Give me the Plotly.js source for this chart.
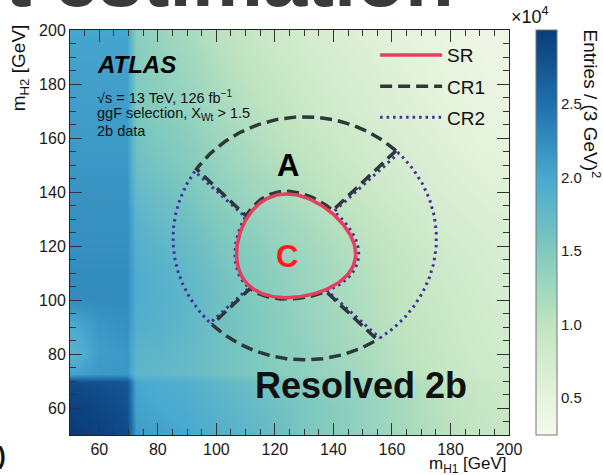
<!DOCTYPE html>
<html>
<head>
<meta charset="utf-8">
<script src="https://cdn.plot.ly/plotly-3.0.1.min.js"></script>
<style>
  html, body { margin: 0; padding: 0; background: #ffffff; }
  #chart { width: 603px; height: 475px; }
</style>
</head>
<body>
<div id="chart"></div>
<script>
// Bin centres in m_H1 and m_H2 (GeV)
const mH1 = [51.5, 60, 69.5, 72.5, 80, 90, 100, 110, 120, 130, 140, 150, 160, 170, 180, 190, 198.5];
const mH2 = [51.5, 60, 69.5, 72.5, 80, 90, 100, 110, 120, 130, 140, 150, 160, 170, 180, 190, 198.5];

// Entries per (3 GeV)^2, in units of 10^4; one row per m_H2 bin, one column per m_H1 bin
const entries = [
  [3.00, 2.95, 2.85, 2.10, 2.05, 2.00, 1.90, 1.80, 1.70, 1.55, 1.45, 1.35, 1.25, 1.15, 1.05, 0.95, 0.90],
  [2.95, 2.90, 2.80, 2.05, 2.00, 1.95, 1.85, 1.75, 1.65, 1.55, 1.45, 1.35, 1.25, 1.12, 1.02, 0.92, 0.88],
  [2.85, 2.80, 2.75, 2.00, 1.95, 1.90, 1.80, 1.70, 1.60, 1.50, 1.40, 1.30, 1.20, 1.10, 1.00, 0.90, 0.85],
  [2.05, 2.15, 2.15, 1.80, 1.78, 1.72, 1.65, 1.55, 1.45, 1.38, 1.30, 1.20, 1.10, 1.00, 0.92, 0.85, 0.80],
  [1.85, 2.10, 2.15, 1.82, 1.80, 1.74, 1.64, 1.55, 1.45, 1.38, 1.28, 1.18, 1.08, 0.98, 0.90, 0.82, 0.78],
  [1.95, 2.15, 2.20, 1.90, 1.86, 1.78, 1.66, 1.56, 1.45, 1.35, 1.25, 1.15, 1.05, 0.95, 0.87, 0.80, 0.75],
  [2.25, 2.25, 2.25, 1.93, 1.88, 1.80, 1.66, 1.53, 1.42, 1.32, 1.22, 1.12, 1.02, 0.92, 0.85, 0.78, 0.72],
  [2.25, 2.25, 2.25, 1.93, 1.87, 1.77, 1.63, 1.51, 1.40, 1.30, 1.20, 1.10, 1.00, 0.90, 0.82, 0.75, 0.70],
  [2.22, 2.22, 2.22, 1.89, 1.81, 1.72, 1.57, 1.46, 1.35, 1.25, 1.15, 1.05, 0.95, 0.86, 0.78, 0.72, 0.66],
  [2.20, 2.20, 2.20, 1.83, 1.74, 1.64, 1.51, 1.38, 1.28, 1.18, 1.08, 0.98, 0.88, 0.80, 0.72, 0.66, 0.62],
  [2.18, 2.18, 2.18, 1.75, 1.66, 1.56, 1.42, 1.30, 1.20, 1.10, 1.00, 0.90, 0.82, 0.74, 0.66, 0.60, 0.56],
  [2.15, 2.15, 2.15, 1.66, 1.58, 1.48, 1.35, 1.22, 1.12, 1.02, 0.92, 0.84, 0.76, 0.68, 0.61, 0.55, 0.52],
  [2.12, 2.12, 2.12, 1.60, 1.52, 1.42, 1.28, 1.15, 1.05, 0.95, 0.86, 0.78, 0.70, 0.63, 0.56, 0.51, 0.48],
  [2.10, 2.10, 2.10, 1.55, 1.46, 1.36, 1.22, 1.09, 0.99, 0.89, 0.80, 0.72, 0.65, 0.58, 0.52, 0.47, 0.44],
  [2.08, 2.08, 2.08, 1.50, 1.40, 1.30, 1.16, 1.03, 0.93, 0.84, 0.75, 0.68, 0.61, 0.54, 0.48, 0.44, 0.41],
  [2.05, 2.05, 2.05, 1.46, 1.36, 1.25, 1.11, 0.98, 0.88, 0.79, 0.71, 0.64, 0.57, 0.51, 0.45, 0.41, 0.38],
  [2.02, 2.02, 2.02, 1.42, 1.32, 1.20, 1.06, 0.94, 0.84, 0.75, 0.67, 0.60, 0.53, 0.47, 0.42, 0.38, 0.35]
];

const colorbarTicks = [0.5, 1.0, 1.5, 2.0, 2.5];
const colorbarTickText = ['0.5', '1.0', '1.5', '2.0', '2.5'];
const axisTicks = [60, 80, 100, 120, 140, 160, 180, 200];

// Region definitions (GeV)
const SR_M1 = 124, SR_M2 = 117, SR_CUT = 1.6;
const CR_M1 = 1.05 * 124, CR_M2 = 1.05 * 117, CR_RADIUS = 45;

const FONT = 'Liberation Sans, Arial, Helvetica, sans-serif';

function xhh(m1, m2) {
  const a = (m1 - SR_M1) / (0.1 * m1);
  const b = (m2 - SR_M2) / (0.1 * m2);
  return Math.sqrt(a * a + b * b);
}

// distance along a ray from the SR centre to the X_HH = cut boundary
function rayToSR(phi, cut) {
  let lo = 0, hi = 80;
  for (let k = 0; k < 60; k++) {
    const mid = 0.5 * (lo + hi);
    const v = xhh(SR_M1 + mid * Math.cos(phi), SR_M2 + mid * Math.sin(phi));
    if (v < cut) lo = mid; else hi = mid;
  }
  return lo;
}

// distance along a ray from the SR centre to the outer CR circle
function rayToCircle(phi) {
  const dx = Math.cos(phi), dy = Math.sin(phi);
  const ox = SR_M1 - CR_M1, oy = SR_M2 - CR_M2;
  const b = dx * ox + dy * oy;
  const c = ox * ox + oy * oy - CR_RADIUS * CR_RADIUS;
  return -b + Math.sqrt(b * b - c);
}

function srContour(cut) {
  const xs = [], ys = [];
  for (let i = 0; i <= 240; i++) {
    const t = 2 * Math.PI * i / 240;
    const u = cut * Math.cos(t), v = cut * Math.sin(t);
    xs.push(SR_M1 / (1 - 0.1 * u));
    ys.push(SR_M2 / (1 - 0.1 * v));
  }
  return { x: xs, y: ys };
}

// closed outline of one quadrant of the control ring
function quadrant(a0, a1, inset, innerCut) {
  const xs = [], ys = [];
  const n = 80;
  const p0 = a0 + inset, p1 = a1 - inset;
  for (let i = 0; i <= n; i++) {
    const phi = p0 + (p1 - p0) * i / n;
    const r = rayToCircle(phi);
    xs.push(SR_M1 + r * Math.cos(phi));
    ys.push(SR_M2 + r * Math.sin(phi));
  }
  for (let i = 0; i <= n; i++) {
    const phi = p1 - (p1 - p0) * i / n;
    const r = rayToSR(phi, innerCut);
    xs.push(SR_M1 + r * Math.cos(phi));
    ys.push(SR_M2 + r * Math.sin(phi));
  }
  xs.push(xs[0]); ys.push(ys[0]);
  return { x: xs, y: ys };
}

const D = Math.PI / 180;
const crTop = quadrant(45 * D, 135 * D, 0.012, 1.66);
const crBottom = quadrant(225 * D, 315 * D, 0.012, 1.66);
const crLeft = quadrant(135 * D, 225 * D, 0.012, 1.66);
const crRight = quadrant(-45 * D, 45 * D, 0.012, 1.66);
const sr = srContour(SR_CUT);

const CR1_COLOR = '#2e3838', CR2_COLOR = '#4a2c9e', SR_COLOR = '#e63e5c';

const colorscale = [
  [0.000, 'rgb(244,250,236)'],
  [0.091, 'rgb(230,243,221)'],
  [0.273, 'rgb(192,228,192)'],
  [0.455, 'rgb(128,202,190)'],
  [0.636, 'rgb(72,168,208)'],
  [0.818, 'rgb(30,112,172)'],
  [1.000, 'rgb(10,60,122)']
];

const traces = [
  {
    type: 'heatmap', x: mH1, y: mH2, z: entries,
    zmin: 0.25, zmax: 3.0, zsmooth: 'best',
    colorscale: colorscale, hoverinfo: 'skip',
    colorbar: {
      x: 1.0615, xanchor: 'left', xpad: 0, ypad: 0,
      y: 0.5, yanchor: 'middle', len: 1, lenmode: 'fraction',
      thickness: 21, thicknessmode: 'pixels',
      outlinewidth: 1, outlinecolor: '#777777',
      tickvals: colorbarTicks, ticktext: colorbarTickText,
      ticks: '', tickfont: { family: FONT, size: 15, color: '#1a1a1a' }
    }
  },
  {
    type: 'scatter', mode: 'lines', name: 'CR2', legendrank: 3, legendgroup: 'cr2',
    x: crLeft.x, y: crLeft.y,
    line: { color: CR2_COLOR, width: 3, dash: '2.5px,4px' }
  },
  {
    type: 'scatter', mode: 'lines', name: 'CR2', legendgroup: 'cr2', showlegend: false,
    x: crRight.x, y: crRight.y,
    line: { color: CR2_COLOR, width: 3, dash: '2.5px,4px' }
  },
  {
    type: 'scatter', mode: 'lines', name: 'CR1', legendrank: 2, legendgroup: 'cr1',
    x: crTop.x, y: crTop.y,
    line: { color: CR1_COLOR, width: 3.5, dash: '12px,6px' }
  },
  {
    type: 'scatter', mode: 'lines', name: 'CR1', legendgroup: 'cr1', showlegend: false,
    x: crBottom.x, y: crBottom.y,
    line: { color: CR1_COLOR, width: 3.5, dash: '12px,6px' }
  },
  {
    type: 'scatter', mode: 'lines', name: 'SR', legendrank: 1, legendgroup: 'sr',
    x: sr.x, y: sr.y,
    line: { color: SR_COLOR, width: 3.5 }
  }
];

const axisCommon = {
  range: [50, 200], autorange: false,
  tickvals: axisTicks, ticks: 'inside', ticklen: 12, tickwidth: 1, tickcolor: '#333333',
  minor: { dtick: 5, tick0: 0, ticks: 'inside', ticklen: 6, tickwidth: 1, tickcolor: '#333333' },
  showline: true, linecolor: '#222222', linewidth: 1, mirror: 'ticks',
  showgrid: false, zeroline: false,
  tickfont: { family: FONT, size: 16, color: '#1a1a1a' }
};

const layout = {
  width: 603, height: 475,
  margin: { l: 70, r: 94, t: 30, b: 40, pad: 0 },
  paper_bgcolor: '#ffffff', plot_bgcolor: '#ffffff',
  font: { family: FONT, color: '#111111' },
  xaxis: Object.assign({}, axisCommon),
  yaxis: Object.assign({}, axisCommon),
  showlegend: true,
  legend: {
    x: 0.695, y: 0.985, xanchor: 'left', yanchor: 'top',
    bgcolor: 'rgba(0,0,0,0)', borderwidth: 0,
    traceorder: 'grouped',
    font: { family: FONT, size: 19, color: '#111111' },
    itemwidth: 62, tracegroupgap: 3.5
  },
  annotations: [
    { xref: 'paper', yref: 'paper', x: 0.056, y: 0.914, xanchor: 'left', yanchor: 'middle',
      text: '<b><i>ATLAS</i></b>', showarrow: false, font: { family: FONT, size: 24, color: '#000' } },
    { xref: 'paper', yref: 'paper', x: 0.056, y: 0.834, xanchor: 'left', yanchor: 'middle',
      text: '√s = 13 TeV, 126 fb<sup>−1</sup>', showarrow: false, font: { family: FONT, size: 14.5, color: '#111' } },
    { xref: 'paper', yref: 'paper', x: 0.056, y: 0.792, xanchor: 'left', yanchor: 'middle',
      text: 'ggF selection, X<sub>Wt</sub> > 1.5', showarrow: false, font: { family: FONT, size: 14.5, color: '#111' } },
    { xref: 'paper', yref: 'paper', x: 0.056, y: 0.751, xanchor: 'left', yanchor: 'middle',
      text: '2b data', showarrow: false, font: { family: FONT, size: 14.5, color: '#111' } },
    { xref: 'x', yref: 'y', x: 124.5, y: 150, text: '<b>A</b>', showarrow: false,
      font: { family: FONT, size: 31, color: '#000' } },
    { xref: 'x', yref: 'y', x: 124.2, y: 116, text: '<b>C</b>', showarrow: false,
      font: { family: FONT, size: 31, color: '#ff1a1a' } },
    { xref: 'x', yref: 'y', x: 149.5, y: 68.5, text: '<b>Resolved 2b</b>', showarrow: false,
      font: { family: FONT, size: 36, color: '#111' } },
    { xref: 'paper', yref: 'paper', x: 1.0, y: -0.074, xanchor: 'right', yanchor: 'middle',
      text: 'm<sub>H1</sub> [GeV]', showarrow: false, font: { family: FONT, size: 17, color: '#111' } },
    { xref: 'paper', yref: 'paper', x: -0.114, y: 1.02, xanchor: 'center', yanchor: 'top', textangle: -90,
      text: 'm<sub>H2</sub> [GeV]', showarrow: false, font: { family: FONT, size: 19, color: '#111' } },
    { xref: 'paper', yref: 'paper', x: 1.189, y: 1.005, xanchor: 'center', yanchor: 'top', textangle: 90,
      text: 'Entries / (3 GeV)<sup>2</sup>', showarrow: false, font: { family: FONT, size: 19, color: '#111' } },
    { xref: 'paper', yref: 'paper', x: 1.047, y: 1.037, xanchor: 'center', yanchor: 'middle',
      text: '×10<sup>4</sup>', showarrow: false, font: { family: FONT, size: 18, color: '#111' } },
    { xref: 'paper', yref: 'paper', x: (456 - 70) / 439, y: 1.012, xanchor: 'right', yanchor: 'bottom',
      text: '<b>t estimation</b>', showarrow: false, font: { family: FONT, size: 80, color: '#3a3a3a' } },
    { xref: 'paper', yref: 'paper', x: (8 - 70) / 439, y: -(455 - 435) / 405, xanchor: 'right', yanchor: 'middle',
      text: '<b>(b)</b>', showarrow: false, font: { family: FONT, size: 24, color: '#111' } }
  ]
};

Plotly.newPlot('chart', traces, layout, { displayModeBar: false, staticPlot: true });
</script>
</body>
</html>
